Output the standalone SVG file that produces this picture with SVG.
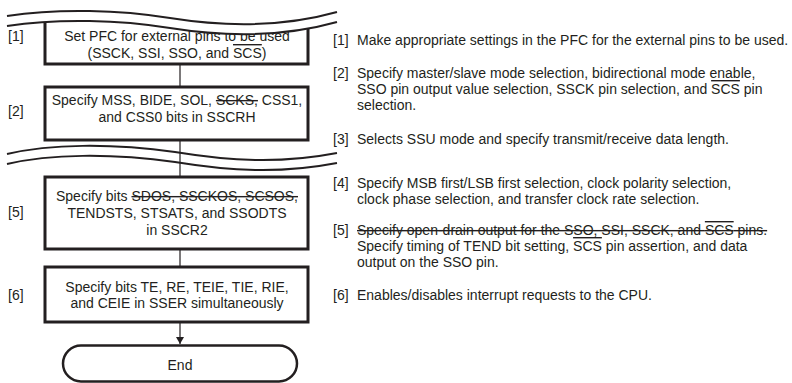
<svg xmlns="http://www.w3.org/2000/svg" width="792" height="383" viewBox="0 0 792 383">
<style>
.box{fill:#fff;stroke:#231f20;stroke-width:3}
.wave{fill:none;stroke:#231f20;stroke-width:2}
.conn{fill:none;stroke:#231f20;stroke-width:1.2}
.t{font-family:"Liberation Sans",Arial,sans-serif;font-size:14px;fill:#231f20;text-anchor:middle}
.r{font-family:"Liberation Sans",Arial,sans-serif;font-size:14px;fill:#231f20}
.lbl{font-family:"Liberation Sans",Arial,sans-serif;font-size:14px;fill:#231f20}
.ov{text-decoration:overline}
.st{text-decoration:line-through}
.stov{text-decoration:line-through overline}
</style>
<defs>
<marker id="ah" markerWidth="8" markerHeight="10" refX="7" refY="4" orient="auto" markerUnits="userSpaceOnUse">
<path d="M0,0 L7,4 L0,8 Z" fill="#231f20"/>
</marker>
</defs>
<g id="connectors">
<line class="conn" x1="180" y1="64" x2="180" y2="87"/>
<line class="conn" x1="180" y1="140" x2="180" y2="177"/>
<line class="conn" x1="180" y1="249" x2="180" y2="267"/>
<line class="conn" x1="180" y1="322" x2="180" y2="344" marker-end="url(#ah)"/>
</g>
<g id="node1">
<path class="box" d="M45,10 V64 H308 V10"/>
<text class="t" x="177" y="41">Set PFC for external pins to be used</text>
<text class="t" x="177" y="58">(SSCK, SSI, SSO, and <tspan class="ov">SCS</tspan>)</text>
<text class="lbl" x="8" y="41">[1]</text>
</g>
<g id="break1">
<path d="M0,0 H340 V22 C280,38 220,36 170,28 C120,20 60,18 7,26 L0,26 Z" fill="#fff"/>
<path class="wave" d="M7,16 C60,8 120,10 170,18 C220,26 280,28 337,12"/>
<path class="wave" d="M7,26 C60,18 120,20 170,28 C220,36 280,38 337,22"/>
</g>
<g id="node2">
<rect class="box" x="45" y="87" width="263" height="53"/>
<text class="t" x="177" y="105">Specify MSS, BIDE, SOL, <tspan class="st">SCKS,</tspan> CSS1,</text>
<text class="t" x="177" y="122">and CSS0 bits in SSCRH</text>
<text class="lbl" x="8" y="116">[2]</text>
</g>
<g id="break2">
<path class="wave" d="M7,154 C50,144 110,143 175,152 C230,161 280,164 337,153"/>
<path class="wave" d="M7,164 C50,154 110,153 175,162 C230,171 280,174 337,163"/>
</g>
<g id="node5">
<rect class="box" x="45" y="177" width="263" height="72"/>
<text class="t" x="177" y="201">Specify bits <tspan class="st">SDOS, SSCKOS, SCSOS,</tspan></text>
<text class="t" x="177" y="218">TENDSTS, STSATS, and SSODTS</text>
<text class="t" x="177" y="235">in SSCR2</text>
<text class="lbl" x="8" y="217">[5]</text>
</g>
<g id="node6">
<rect class="box" x="45" y="267" width="263" height="55"/>
<text class="t" x="177" y="292">Specify bits TE, RE, TEIE, TIE, RIE,</text>
<text class="t" x="177" y="308">and CEIE in SSER simultaneously</text>
<text class="lbl" x="8" y="300">[6]</text>
</g>
<g id="end">
<rect x="63" y="345.5" width="234" height="36" rx="18" ry="18" fill="#fff" stroke="#231f20" stroke-width="2.5"/>
<text class="t" x="180" y="370">End</text>
</g>
<g id="notes">
<text class="r" x="333" y="45">[1]</text><text class="r" x="357" y="45">Make appropriate settings in the PFC for the external pins to be used.</text>
<text class="r" x="333" y="78">[2]</text><text class="r" x="357" y="78">Specify master/slave mode selection, bidirectional mode enable,</text>
<text class="r" x="357" y="94">SSO pin output value selection, SSCK pin selection, and <tspan class="ov">SCS</tspan> pin</text>
<text class="r" x="357" y="110">selection.</text>
<text class="r" x="333" y="144">[3]</text><text class="r" x="357" y="144">Selects SSU mode and specify transmit/receive data length.</text>
<text class="r" x="333" y="188">[4]</text><text class="r" x="357" y="188">Specify MSB first/LSB first selection, clock polarity selection,</text>
<text class="r" x="357" y="204">clock phase selection, and transfer clock rate selection.</text>
<text class="r" x="333" y="235">[5]</text><text class="r" x="357" y="235"><tspan class="st">Specify open-drain output for the SSO, SSI, SSCK, and </tspan><tspan class="stov">SCS</tspan><tspan class="st"> pins.</tspan></text>
<text class="r" x="357" y="251">Specify timing of TEND bit setting, <tspan class="ov">SCS</tspan> pin assertion, and data</text>
<text class="r" x="357" y="267">output on the SSO pin.</text>
<text class="r" x="333" y="300">[6]</text><text class="r" x="357" y="300">Enables/disables interrupt requests to the CPU.</text>
</g>
</svg>
